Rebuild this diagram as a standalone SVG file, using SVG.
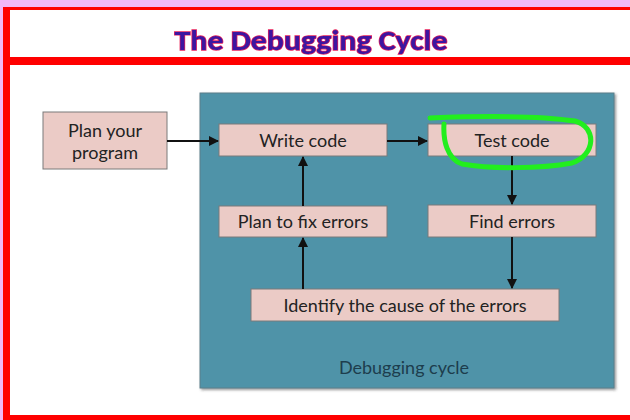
<svg xmlns="http://www.w3.org/2000/svg" width="630" height="420" viewBox="0 0 630 420">
  <defs>
    <marker id="arrow" viewBox="0 0 10 10" refX="9" refY="5" markerWidth="10" markerHeight="10" markerUnits="userSpaceOnUse" orient="auto">
      <path d="M0,0 L10,5 L0,10 z" fill="#111"/>
    </marker>
    <filter id="shadow" x="-5%" y="-5%" width="110%" height="110%">
      <feDropShadow dx="1.5" dy="1.5" stdDeviation="1.2" flood-color="#333" flood-opacity="0.5"/>
    </filter>
    <filter id="soft" x="-5%" y="-5%" width="110%" height="110%">
      <feGaussianBlur stdDeviation="0.5"/>
    </filter>
  </defs>
  <style>
    .box { fill: #ebcbc6; stroke: #7a7a7a; stroke-width: 1; }
    .label { font-family: Lato, "Open Sans", sans-serif; font-size: 18px; fill: #222; text-anchor: middle; }
    .conn { stroke: #111; stroke-width: 2; fill: none; marker-end: url(#arrow); }
  </style>

  <!-- page background and frame -->
  <rect x="0" y="0" width="630" height="420" fill="#ffffff"/>
  <rect x="0" y="0" width="630" height="7" fill="#f2b8f6"/>
  <rect x="0" y="0" width="3" height="420" fill="#f2b8f6"/>
  <rect x="3" y="7" width="627" height="3" fill="#ff0000"/>
  <rect x="3" y="7" width="7" height="413" fill="#ff0000"/>
  <rect x="3" y="57" width="627" height="8" fill="#ff0000"/>
  <rect x="3" y="415" width="627" height="5" fill="#ff0000"/>

  <!-- title -->
  <text x="311" y="50" font-family="Carlito, Lato, 'Open Sans', sans-serif" font-size="28" font-weight="bold" fill="#3d12a0" stroke="#e8245a" stroke-width="1.3" paint-order="stroke" text-anchor="middle" textLength="273" lengthAdjust="spacingAndGlyphs" filter="url(#soft)">The Debugging Cycle</text>

  <!-- cycle container -->
  <g id="debugging-cycle">
    <rect x="200" y="93" width="414" height="295" fill="#4f93a8" stroke="#5d7f8a" stroke-width="1" filter="url(#shadow)"/>
    <text x="404" y="374" class="label" style="fill:#1d3d4d">Debugging cycle</text>
  </g>

  <g id="plan-program">
    <rect class="box" x="43" y="112" width="124" height="57"/>
    <text class="label" x="105" y="137">Plan your</text>
    <text class="label" x="105" y="159">program</text>
  </g>

  <g id="write-code">
    <rect class="box" x="219" y="124" width="168" height="32"/>
    <text class="label" x="303" y="147">Write code</text>
  </g>

  <g id="test-code">
    <rect class="box" x="428" y="124" width="168" height="32"/>
    <text class="label" x="512" y="147">Test code</text>
  </g>

  <g id="plan-fix">
    <rect class="box" x="219" y="206" width="168" height="31"/>
    <text class="label" x="303" y="228">Plan to fix errors</text>
  </g>

  <g id="find-errors">
    <rect class="box" x="428" y="205" width="168" height="32"/>
    <text class="label" x="512" y="228">Find errors</text>
  </g>

  <g id="identify-cause">
    <rect class="box" x="251" y="289" width="308" height="32"/>
    <text class="label" x="405" y="312">Identify the cause of the errors</text>
  </g>

  <g id="connectors">
    <line class="conn" x1="167" y1="141" x2="218" y2="141"/>
    <line class="conn" x1="387" y1="141" x2="427" y2="141"/>
    <line class="conn" x1="512" y1="156" x2="512" y2="204"/>
    <line class="conn" x1="512" y1="237" x2="512" y2="288"/>
    <line class="conn" x1="303" y1="289" x2="303" y2="238"/>
    <line class="conn" x1="303" y1="206" x2="303" y2="157"/>
  </g>

  <!-- hand-drawn highlight -->
  <path d="M430,118 C480,116 540,116 575,121 C597,127 596,155 572,163 C540,169 490,169 462,164 C447,159 443,140 444,124" fill="none" stroke="#22ee1e" stroke-width="5" stroke-linecap="round" stroke-linejoin="round"/>
</svg>
